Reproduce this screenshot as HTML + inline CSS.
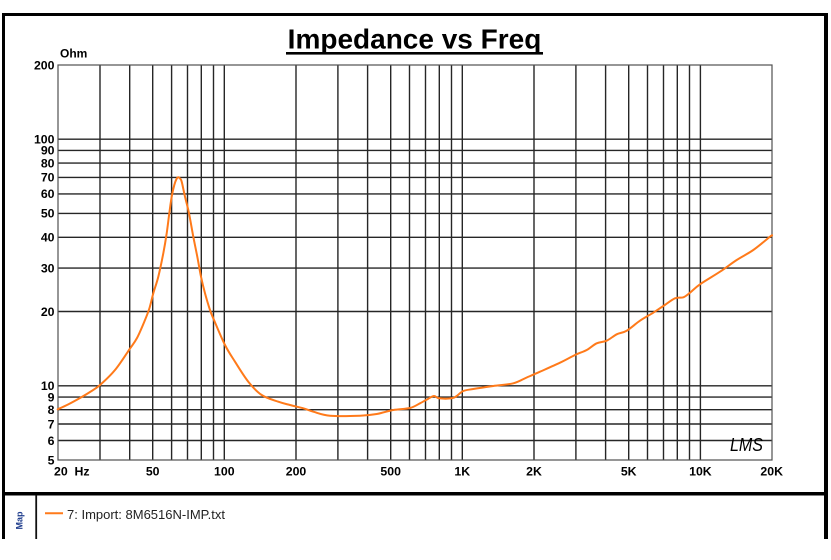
<!DOCTYPE html>
<html>
<head>
<meta charset="utf-8">
<style>
html,body{margin:0;padding:0;background:#fff;}
svg{display:block;}
text{font-family:"Liberation Sans",Arial,sans-serif;}
</style>
</head>
<body>
<svg width="831" height="560" viewBox="0 0 831 560" xmlns="http://www.w3.org/2000/svg">
<rect x="0" y="0" width="831" height="560" fill="#fff"/>
<rect x="2" y="13" width="826" height="3" fill="#000"/>
<rect x="2" y="13" width="3" height="526" fill="#000"/>
<rect x="824" y="13" width="4" height="526" fill="#000"/>
<rect x="2" y="492" width="826" height="3.5" fill="#000"/>
<rect x="35.3" y="495" width="1.8" height="44" fill="#111"/>
<text x="414.5" y="48.3" font-size="28" font-weight="bold" text-anchor="middle" fill="#000">Impedance vs Freq</text>
<rect x="286" y="52" width="257" height="2.6" fill="#000"/>
<path stroke="#262626" stroke-width="1.4" fill="none" d="M100 65V460M129.7 65V460M152.7 65V460M171.6 65V460M187.5 65V460M201.3 65V460M213.5 65V460M224.3 65V460M296 65V460M337.9 65V460M367.6 65V460M390.7 65V460M409.5 65V460M425.5 65V460M439.3 65V460M451.5 65V460M462.3 65V460M534 65V460M575.9 65V460M605.6 65V460M628.7 65V460M647.5 65V460M663.5 65V460M677.3 65V460M689.5 65V460M700.4 65V460"/>
<path stroke="#262626" stroke-width="1.4" fill="none" d="M58 440.5H772M58 424H772M58 409.7H772M58 397.1H772M58 385.8H772M58 311.5H772M58 268.1H772M58 237.3H772M58 213.4H772M58 193.9H772M58 177.4H772M58 163.1H772M58 150.4H772M58 139.2H772"/>
<rect x="58" y="65" width="714" height="395" fill="none" stroke="#505050" stroke-width="1.2"/>
<polyline id="curve" fill="none" stroke="#ff7a1a" stroke-width="2" stroke-linejoin="round" stroke-linecap="round" points="57.7,409.3 68,404.5 80,398 90,392 100,385 115,370 129,350 137,338 145,320 149.5,308 153.3,293.3 158.3,276.7 163.3,253.3 166.7,233.3 169.3,213.3 171.7,196.7 174.3,185 176.5,179 178.3,177.3 180,178.5 181.7,181.7 185,196.7 189,213.3 193.3,236.7 197.3,256.7 201,276.7 205,293.3 210,310 214,320 225,345 235,361.7 248.3,381.7 261.7,395 278.3,401.7 290,405 303.3,408.3 313.3,411.7 330,415.7 360,415.7 376.7,414 393.3,410 410,408 420,403.3 428.3,398.7 434,396 439.3,398.3 451.7,398.3 456.7,396 463.3,391 473.3,389 493.3,386 513.3,383.3 526.7,377.5 540,371.7 560,362.7 575,355 586.7,350 596.7,343.3 606.7,340.7 616.7,334.3 626.7,330.7 640,320.7 653.3,312.7 663.3,306 675,298.3 683.3,297.3 690,292.7 700,284.3 720,271.7 736.7,260 753.3,250 770,236.7 772,235.5"/>
<text x="60" y="57.7" font-size="12" font-weight="bold" fill="#000">Ohm</text>
<g font-size="12.3" font-weight="bold" fill="#000" text-anchor="end">
<text x="54.5" y="69.3">200</text>
<text x="54.5" y="143.5">100</text>
<text x="54.5" y="154.7">90</text>
<text x="54.5" y="167.4">80</text>
<text x="54.5" y="181.7">70</text>
<text x="54.5" y="198.2">60</text>
<text x="54.5" y="217.7">50</text>
<text x="54.5" y="241.6">40</text>
<text x="54.5" y="272.4">30</text>
<text x="54.5" y="315.8">20</text>
<text x="54.5" y="390.1">10</text>
<text x="54.5" y="401.4">9</text>
<text x="54.5" y="414">8</text>
<text x="54.5" y="428.3">7</text>
<text x="54.5" y="444.8">6</text>
<text x="54.5" y="464.3">5</text>
</g>
<g font-size="12.3" font-weight="bold" fill="#000" text-anchor="middle">
<text x="54" y="475.5" text-anchor="start">20&#160;&#160;Hz</text>
<text x="152.7" y="475.5">50</text>
<text x="224.3" y="475.5">100</text>
<text x="296" y="475.5">200</text>
<text x="390.7" y="475.5">500</text>
<text x="462.3" y="475.5">1K</text>
<text x="534" y="475.5">2K</text>
<text x="628.7" y="475.5">5K</text>
<text x="700.4" y="475.5">10K</text>
<text x="771.7" y="475.5">20K</text>
</g>
<text x="730" y="451" font-size="18" font-style="italic" fill="#000" textLength="33" lengthAdjust="spacingAndGlyphs">LMS</text>
<text transform="translate(22.5,520.5) rotate(-90)" font-size="9" font-weight="bold" fill="#1e3c8c" text-anchor="middle">Map</text>
<line x1="45" y1="513.3" x2="63" y2="513.3" stroke="#ff7a1a" stroke-width="2"/>
<text x="67" y="519" font-size="13" fill="#222">7: Import: 8M6516N-IMP.txt</text>
</svg>
<script>
(function(){
try{
var pl=document.getElementById('curve');
var raw=pl.getAttribute('points').trim().split(/\s+/).map(function(s){var a=s.split(',');return [parseFloat(a[0]),parseFloat(a[1])];});
var d='M'+raw[0][0]+','+raw[0][1];
for(var i=0;i<raw.length-1;i++){
var p0=raw[i-1]||raw[i],p1=raw[i],p2=raw[i+1],p3=raw[i+2]||raw[i+1];
d+=' C'+(p1[0]+(p2[0]-p0[0])/6).toFixed(2)+','+(p1[1]+(p2[1]-p0[1])/6).toFixed(2)+' '+(p2[0]-(p3[0]-p1[0])/6).toFixed(2)+','+(p2[1]-(p3[1]-p1[1])/6).toFixed(2)+' '+p2[0]+','+p2[1];
}
var path=document.createElementNS('http://www.w3.org/2000/svg','path');
path.setAttribute('d',d);
path.setAttribute('fill','none');
path.setAttribute('stroke','#ff7a1a');
path.setAttribute('stroke-width','2');
path.setAttribute('stroke-linejoin','round');
path.setAttribute('stroke-linecap','round');
pl.parentNode.insertBefore(path,pl);
pl.parentNode.removeChild(pl);
}catch(e){}
})();
</script>
</body>
</html>
